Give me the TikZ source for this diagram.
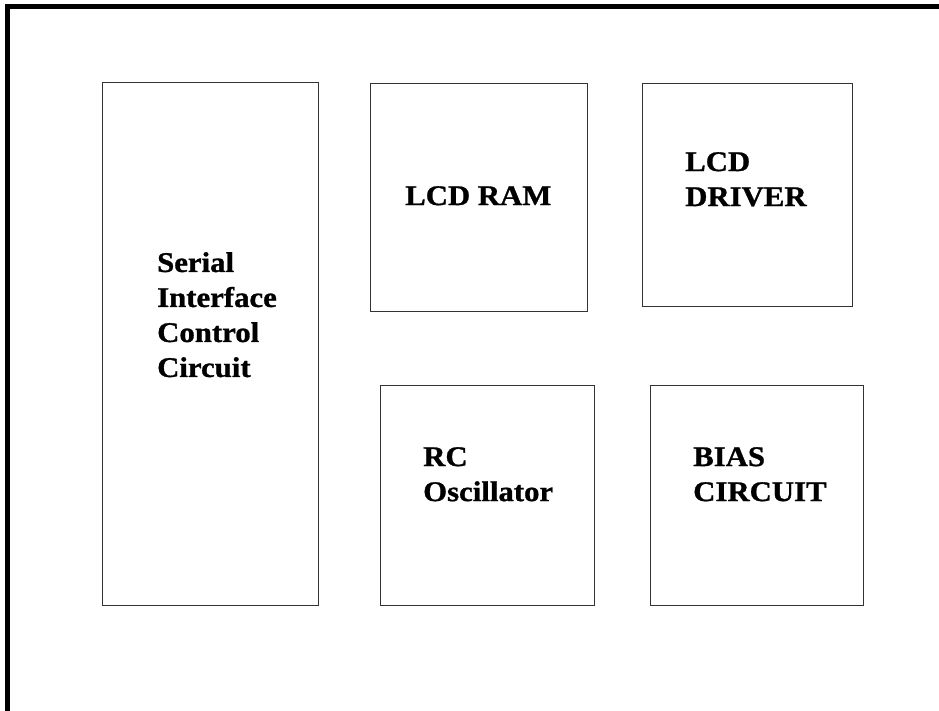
\documentclass[tikz,border=0pt]{standalone}
\usepackage{fontspec}
\setmainfont{Liberation Serif}[FakeStretch=1.08, FakeBold=1]
\usetikzlibrary{positioning}

\tikzset{
  blk/.style={draw=black!80, line width=1pt, inner sep=0pt},
  lbl/.style={anchor=north west, inner sep=0pt, align=left,
    font=\fontsize{28.5}{35}\selectfont\bfseries}
}

\begin{document}
\begin{tikzpicture}[x=1pt, y=-1pt]
    \useasboundingbox (0,0) rectangle (939,711);

    % Frame
    \draw[line width=5pt] (7.5,711) -- (7.5,7) -- (939,7);

    % Blocks
    \node[blk, minimum width=216pt, minimum height=522pt] (serial) at (210,344) {};
    \node[blk, minimum width=217pt, minimum height=227pt] (ram) at (478.5,197.5) {};
    \node[blk, minimum width=210pt, minimum height=222pt] (driver) at (747,195) {};
    \node[blk, minimum width=214pt, minimum height=220pt] (osc) at (487,495) {};
    \node[blk, minimum width=213pt, minimum height=220pt] (bias) at (756.5,495) {};

    % Labels
    \node[lbl] (seriallbl) at (157,252) {Serial\\Interface\\Control\\Circuit};
    \node[lbl] (ramlbl) at (405,186) {LCD RAM};
    \node[lbl] (driverlbl) at (685,152) {LCD\\DRIVER};
    \node[lbl] (osclbl) at (423,447) {RC\\Oscillator};
    \node[lbl] (biaslbl) at (693,447) {BIAS\\CIRCUIT};
\end{tikzpicture}
\end{document}
